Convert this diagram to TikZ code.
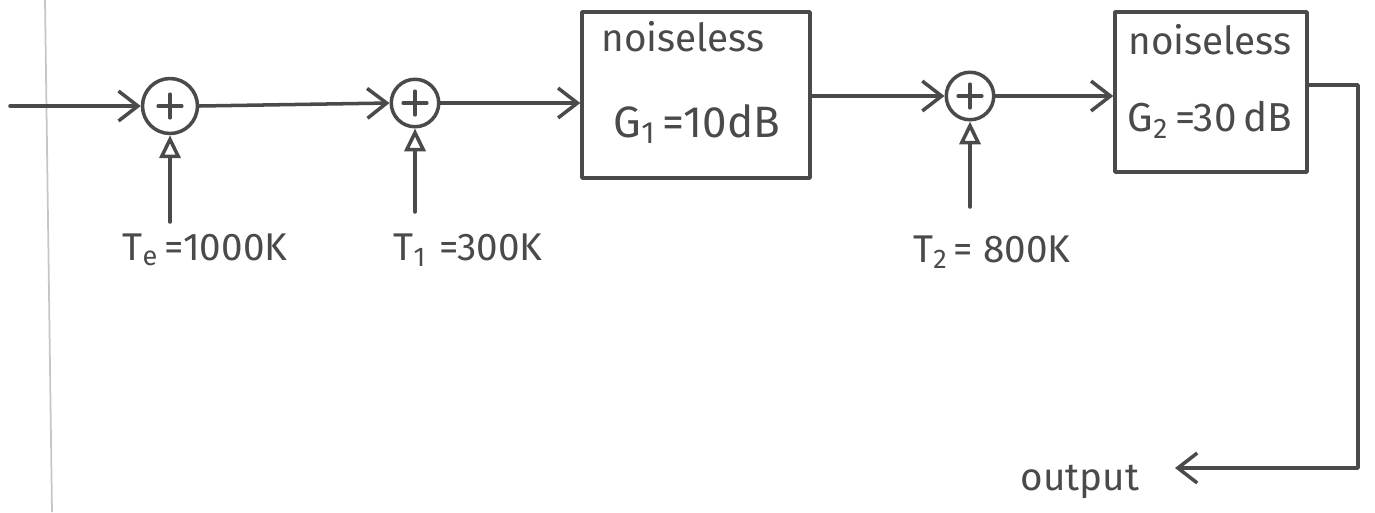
\documentclass[tikz,border=0pt]{standalone}
\usepackage{fontspec}
\setmainfont{Fira Sans}
\usetikzlibrary{arrows.meta}
\definecolor{ink}{HTML}{4A4A4A}
\definecolor{ruling}{HTML}{C6C6C6}
\begin{document}
\begin{tikzpicture}[x=0.02cm,y=-0.02cm,
  pen/.style={draw=ink,line width=2pt,line cap=round,line join=round},
  flow/.style={pen,-{Straight Barb[length=11pt,width=17pt,line width=2pt]}},
  feed/.style={pen,-{Triangle[open,length=13pt,width=12pt,line width=2pt]}},
  summer/.style={circle,pen,minimum size=0.95cm,inner sep=0pt,
    path picture={
      \draw[ink,line width=1.8pt,line cap=round]
        ([xshift=-0.24cm]path picture bounding box.center) -- ([xshift=0.24cm]path picture bounding box.center)
        ([yshift=-0.24cm]path picture bounding box.center) -- ([yshift=0.24cm]path picture bounding box.center);}},
  block/.style={rectangle,pen,inner sep=0pt},
  txt/.style={text=ink,inner sep=0pt,font=\fontsize{22}{26}\selectfont},
  boxtxt/.style={text=ink,inner sep=0pt,font=\fontsize{22}{26}\selectfont},
  gaintxt/.style={text=ink,inner sep=0pt,font=\fontsize{25}{28}\selectfont}]
  \useasboundingbox (0,0) rectangle (1375,512);

  % notebook margin ruling
  \draw[ruling,line width=1pt] (45,0) -- (52,512);

  % summing junctions and noiseless gain blocks
  \node[summer,minimum size=1.1cm] (s1) at (170,106) {};
  \node[summer] (s2) at (415,103) {};
  \node[block,minimum width=4.56cm,minimum height=3.32cm] (b1) at (696,95) {};
  \node[summer] (s3) at (970,96) {};
  \node[block,minimum width=3.84cm,minimum height=3.2cm] (b2) at (1211,92) {};

  % block contents
  \node[boxtxt] (b1top) at (683,37) {noiseless};
  \node[gaintxt] (b1gain) at (697,124) {G\textsubscript{1}\,=10dB};
  \node[boxtxt] (b2top) at (1210,40) {noiseless};
  \node[gaintxt,font=\fontsize{23}{26}\selectfont] (b2gain) at (1210,120) {G\textsubscript{2}\,=30\,dB};

  % noise temperature sources
  \coordinate (n1) at (170,222);
  \coordinate (n2) at (415,212);
  \coordinate (n3) at (970,207);
  \node[txt] (t1) at (205,250) {T\textsubscript{e}\,=1000K};
  \node[txt] (t2) at (468,250) {T\textsubscript{1}\,\,=300K};
  \node[txt] (t3) at (992,252) {T\textsubscript{2}\,= 800K};
  \draw[feed] (n1) -- (s1.south);
  \draw[feed] (n2) -- (s2.south);
  \draw[feed] (n3) -- (s3.south);

  % signal path
  \coordinate (in) at (10,106);
  \draw[flow] (in) -- (s1.west);
  \draw[flow] (s1.east) -- (s2.west);
  \draw[flow] (s2.east) -- (s2.east -| b1.west);
  \draw[flow] (b1.east |- s3.west) -- (s3.west);
  \draw[flow] (s3.east) -- (s3.east -| b2.west);

  % output return path
  \coordinate (c1) at (1358,85);
  \coordinate (c2) at (1358,468);
  \coordinate (outend) at (1175,468);
  \draw[flow] (b2.east |- c1) -- (c1) -- (c2) -- (outend);
  \node[txt] (out) at (1080,482) {output};
\end{tikzpicture}
\end{document}
